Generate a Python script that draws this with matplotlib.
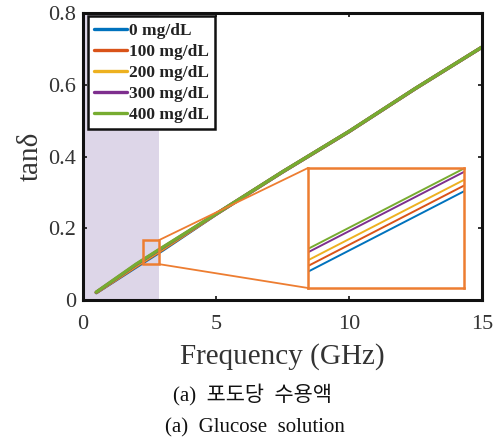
import matplotlib
matplotlib.use("Agg")
import matplotlib.pyplot as plt
from matplotlib.patches import Rectangle, ConnectionPatch

# ---------------- data ----------------
freq = [0.5, 2.0, 3.0, 5.0, 7.5, 10.0, 12.5, 15.0]
tand_0 = [0.0205, 0.0922, 0.1392, 0.2388, 0.3565, 0.4692, 0.5893, 0.7046]
tand_100 = [0.0208, 0.0942, 0.1412, 0.2391, 0.3568, 0.4694, 0.5895, 0.7047]
tand_200 = [0.0212, 0.0962, 0.1432, 0.2394, 0.3570, 0.4696, 0.5897, 0.7048]
tand_300 = [0.0216, 0.0990, 0.1460, 0.2398, 0.3573, 0.4698, 0.5899, 0.7049]
tand_400 = [0.0220, 0.1002, 0.1472, 0.2400, 0.3575, 0.4700, 0.5900, 0.7050]
labels = ["0 mg/dL", "100 mg/dL", "200 mg/dL", "300 mg/dL", "400 mg/dL"]
series = [tand_0, tand_100, tand_200, tand_300, tand_400]
colors = ["#0072BD", "#D95319", "#EDB120", "#7E2F8E", "#77AC30"]

shade_range = (0.0, 2.86)
zoom_box_x = (2.26, 2.86)
zoom_box_y = (0.100, 0.167)
inset_ylim = (0.0987, 0.1408)

x_ticks = [0, 5, 10, 15]
y_ticks = [0, 0.2, 0.4, 0.6, 0.8]
y_ticklabels = ["0", "0.2", "0.4", "0.6", "0.8"]

serif = ["Liberation Serif", "DejaVu Serif"]
plt.rcParams["font.family"] = serif

fig = plt.figure(figsize=(4.99, 4.45), dpi=100)
ax = fig.add_axes([0.1663, 0.3258, 0.7996, 0.6450])

ax.axvspan(*shade_range, color="#DDD6E8", zorder=0, lw=0)

for y, c, lab in zip(series, colors, labels):
    ax.plot(freq, y, color=c, lw=2.4, label=lab, solid_capstyle="round", zorder=2)

ax.set_xlim(0, 15)
ax.set_ylim(0, 0.8)
ax.set_xticks(x_ticks)
ax.set_yticks(y_ticks)
ax.set_yticklabels(y_ticklabels)
ax.tick_params(direction="in", length=3, width=1.2, top=True, right=True,
               labelsize=16, colors="#111111", labelcolor="#333333")
ax.tick_params(axis="x", pad=11)
ax.tick_params(axis="y", pad=5)
for s in ax.spines.values():
    s.set_linewidth(2.2)
    s.set_color("#111111")

ax.set_xlabel("Frequency (GHz)", fontsize=21, color="#333333", labelpad=6)
ax.set_ylabel("tan\u03b4", fontsize=21, color="#333333", labelpad=3)

leg = ax.legend(loc="upper left", bbox_to_anchor=(0.012, 0.988), borderaxespad=0,
                fancybox=False, framealpha=1, edgecolor="#111111",
                prop={"family": serif, "size": 12.5, "weight": "bold"},
                handlelength=1.9, handletextpad=0.15, labelspacing=0.28,
                borderpad=0.35)
leg.get_frame().set_linewidth(1.8)
for t in leg.get_texts():
    t.set_color("#222222")
leg.set_zorder(5)

# zoom box
box_color = "#ED7D31"
rect = Rectangle((zoom_box_x[0], zoom_box_y[0]), zoom_box_x[1] - zoom_box_x[0],
                 zoom_box_y[1] - zoom_box_y[0], fill=False, ec=box_color, lw=1.8, zorder=4)
ax.add_patch(rect)

axin = fig.add_axes([0.6172, 0.3528, 0.3126, 0.2697])
for y, c in zip(series, colors):
    axin.plot(freq, y, color=c, lw=1.4)
axin.set_xlim(*zoom_box_x)
axin.set_ylim(*inset_ylim)
axin.set_xticks([])
axin.set_yticks([])
for s in axin.spines.values():
    s.set_color(box_color)
    s.set_linewidth(1.8)

for yb, yi in [(zoom_box_y[1], 1.0), (zoom_box_y[0], 0.0)]:
    con = ConnectionPatch(xyA=(zoom_box_x[1], yb), coordsA=ax.transData,
                          xyB=(0.0, yi), coordsB=axin.transAxes,
                          color=box_color, lw=1.3)
    fig.add_artist(con)

cap_family = ["Liberation Serif", "Noto Sans CJK KR"]
fig.text(0.505, 1 - 395 / 445, "(a)  \ud3ec\ub3c4\ub2f9  \uc218\uc6a9\uc561", ha="center", va="center",
         fontsize=15, family=cap_family, color="#111111")
fig.text(0.51, 1 - 428 / 445, "(a)  Glucose  solution", ha="center", va="center",
         fontsize=15, family=cap_family, color="#111111")

fig.savefig("out.png", dpi=100)
